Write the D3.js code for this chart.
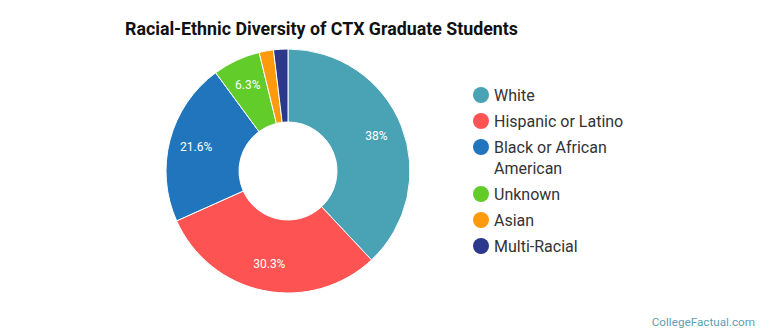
<!DOCTYPE html>
<html lang="en">
<head>
<meta charset="utf-8">
<title>Racial-Ethnic Diversity</title>
<script src="https://d3js.org/d3.v7.min.js"></script>
<style>
  body { margin: 0; background: #fff; }
  text { font-family: Roboto, "Noto Sans", sans-serif; }
</style>
</head>
<body>
<div id="canvas"></div>
<script>
const groups = ["White", "Hispanic or Latino", "Black or African American", "Unknown", "Asian", "Multi-Racial"]
const shares = [38, 30.3, 21.6, 6.3, 1.9, 1.9]
const colours = ["#4aa2b5", "#fd5353", "#2175bd", "#62cc2b", "#fe9a0b", "#2b388c"]
const legendLines = [["White"], ["Hispanic or Latino"], ["Black or African", "American"], ["Unknown"], ["Asian"], ["Multi-Racial"]]

const width = 770, height = 335
const cx = 288, cy = 171, outerR = 122, innerR = 49

const data = groups.map((g, i) => ({ group: g, value: shares[i], colour: colours[i] }))

const svg = d3.select("#canvas").append("svg")
  .attr("width", width)
  .attr("height", height)

svg.append("text")
  .attr("x", 125).attr("y", 35)
  .attr("font-size", 17.8).attr("font-weight", "bold").attr("fill", "#111")
  .text("Racial-Ethnic Diversity of CTX Graduate Students")

const pie = d3.pie().value(d => d.value).sort(null)
const arc = d3.arc().innerRadius(innerR).outerRadius(outerR)
const labelArc = d3.arc().innerRadius(95).outerRadius(95)

const g = svg.append("g").attr("transform", `translate(${cx},${cy})`)
const arcs = pie(data)

g.selectAll("path").data(arcs).join("path")
  .attr("d", arc)
  .attr("fill", d => d.data.colour)
  .attr("stroke", "#fff")
  .attr("stroke-width", 1)

g.selectAll("text").data(arcs.filter(d => d.data.value > 5)).join("text")
  .attr("transform", d => `translate(${labelArc.centroid(d)})`)
  .attr("text-anchor", "middle")
  .attr("dy", "0.35em")
  .attr("font-size", 12)
  .attr("fill", "#fff")
  .text(d => d.data.value + "%")

// legend
const rowY = [95, 121, 147, 194, 220, 246]
const legend = svg.append("g")
legendLines.forEach((lines, i) => {
  legend.append("circle")
    .attr("cx", 481).attr("cy", rowY[i]).attr("r", 8)
    .attr("fill", colours[i])
  lines.forEach((line, j) => {
    legend.append("text")
      .attr("x", 494).attr("y", rowY[i] + j * 21)
      .attr("dy", "0.35em")
      .attr("font-size", 16).attr("fill", "#333")
      .text(line)
  })
})

svg.append("text")
  .attr("x", 755).attr("y", 326)
  .attr("text-anchor", "end")
  .attr("font-size", 11.7).attr("fill", "#5a9fb3")
  .text("CollegeFactual.com")
</script>
</body>
</html>
